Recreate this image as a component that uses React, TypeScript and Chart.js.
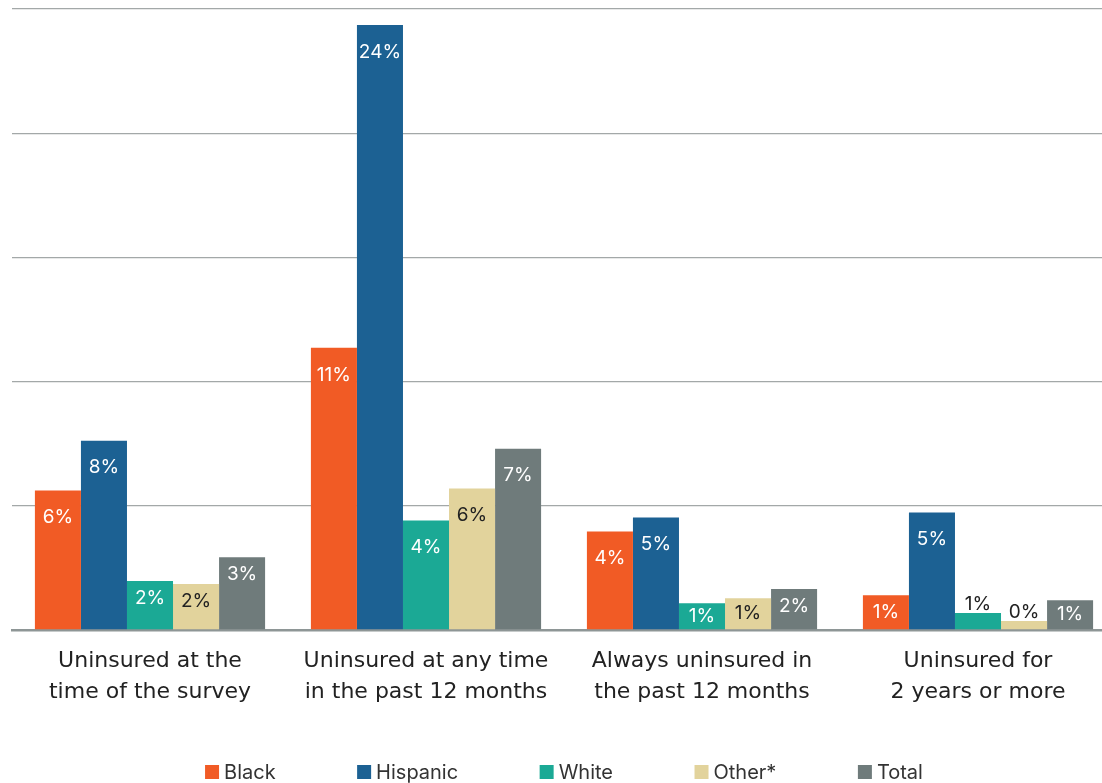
import React, { useEffect, useRef } from "react";
import { Chart, registerables } from "chart.js";

Chart.register(...registerables);

const categories = [
  ["Uninsured at the", "time of the survey"],
  ["Uninsured at any time", "in the past 12 months"],
  ["Always uninsured in", "the past 12 months"],
  ["Uninsured for", "2 years or more"],
];
const seriesNames = ["Black", "Hispanic", "White", "Other*", "Total"];
const black = [5.62, 11.36, 3.97, 1.4];
const hispanic = [7.62, 24.36, 4.53, 4.73];
const white = [1.97, 4.41, 1.08, 0.68];
const other = [1.85, 5.7, 1.28, 0.36];
const total = [2.93, 7.3, 1.65, 1.2];
const yMax = 25;
const yStep = 5;

const seriesValues = [black, hispanic, white, other, total];
const seriesColors = ["#F15B25", "#1C6193", "#1BA995", "#E2D39C", "#6F7B7B"];
const labelColors = ["#ffffff", "#ffffff", "#ffffff", "#222222", "#ffffff"];

const FONT = "Inter, 'Open Sans', sans-serif";
const TICK_FONT = "'DejaVu Sans', Inter, sans-serif";

const barLabelPlugin = {
  id: "barLabels",
  afterDatasetsDraw(chart: any) {
    const ctx = chart.ctx;
    ctx.save();
    ctx.font = `400 19px ${FONT}`;
    ctx.textAlign = "center";
    ctx.textBaseline = "middle";
    chart.data.datasets.forEach((ds: any, di: number) => {
      const meta = chart.getDatasetMeta(di);
      meta.data.forEach((bar: any, i: number) => {
        const v = ds.data[i];
        const top = bar.y;
        const h = bar.base - top;
        let y: number;
        let color: string;
        if (h < 20) {
          y = top - 9;
          color = "#222222";
        } else {
          y = top + (h >= 80 ? 27 : Math.min(h / 2, 17));
          color = labelColors[di];
        }
        ctx.fillStyle = color;
        ctx.fillText(Math.round(v) + "%", bar.x, y);
      });
    });
    ctx.restore();
  },
};

const legendPlugin = {
  id: "customLegend",
  afterDraw(chart: any) {
    const ctx = chart.ctx;
    const area = chart.chartArea;
    ctx.save();
    ctx.font = `400 20px ${FONT}`;
    ctx.textBaseline = "middle";
    ctx.textAlign = "left";
    const box = 14;
    const gap = 5;
    const spacing = 81.5;
    const items = chart.data.datasets.map((ds: any) => ({
      text: ds.label,
      color: ds.backgroundColor,
      w: box + gap + ctx.measureText(ds.label).width,
    }));
    const totalW =
      items.reduce((s: number, it: any) => s + it.w, 0) + spacing * (items.length - 1);
    let x = (area.left + area.right) / 2 - totalW / 2;
    const y = chart.height - 11;
    items.forEach((it: any) => {
      ctx.fillStyle = it.color;
      ctx.fillRect(x, y - box / 2, box, box);
      ctx.fillStyle = "#333333";
      ctx.fillText(it.text, x + box + gap, y + 1);
      x += it.w + spacing;
    });
    ctx.restore();
  },
};

export default function App() {
  const ref = useRef<HTMLCanvasElement | null>(null);

  useEffect(() => {
    const prevMargin = document.body.style.margin;
    document.body.style.margin = "0";
    if (!ref.current) return;
    const chart = new Chart(ref.current, {
      type: "bar",
      data: {
        labels: categories,
        datasets: seriesNames.map((name, i) => ({
          label: name,
          data: seriesValues[i],
          backgroundColor: seriesColors[i],
          borderWidth: 0,
          categoryPercentage: 0.834,
          barPercentage: 1,
        })),
      },
      options: {
        responsive: false,
        animation: false,
        devicePixelRatio: 1,
        layout: { padding: { top: 9, left: 12, right: 0, bottom: 59 } },
        plugins: {
          legend: { display: false },
          tooltip: { enabled: false },
        },
        scales: {
          x: {
            grid: { display: false, drawTicks: false },
            border: { display: true, color: "#8E9696", width: 2.5 },
            ticks: {
              color: "#222222",
              padding: 16,
              font: { family: TICK_FONT, size: 22, lineHeight: "31px" },
            },
          },
          y: {
            min: 0,
            max: yMax,
            ticks: { display: false, stepSize: yStep },
            grid: { color: "#A3A8A8", lineWidth: 1.3, drawTicks: false },
            border: { display: false },
          },
        },
      },
      plugins: [barLabelPlugin, legendPlugin],
    });
    return () => {
      chart.destroy();
      document.body.style.margin = prevMargin;
    };
  }, []);

  return (
    <div
      style={{
        position: "fixed",
        left: 0,
        top: 0,
        width: 1102,
        height: 783,
        overflow: "hidden",
        background: "#ffffff",
      }}
    >
      <canvas
        ref={ref}
        width={1116}
        height={783}
        style={{ width: 1116, height: 783, display: "block" }}
      />
    </div>
  );
}
